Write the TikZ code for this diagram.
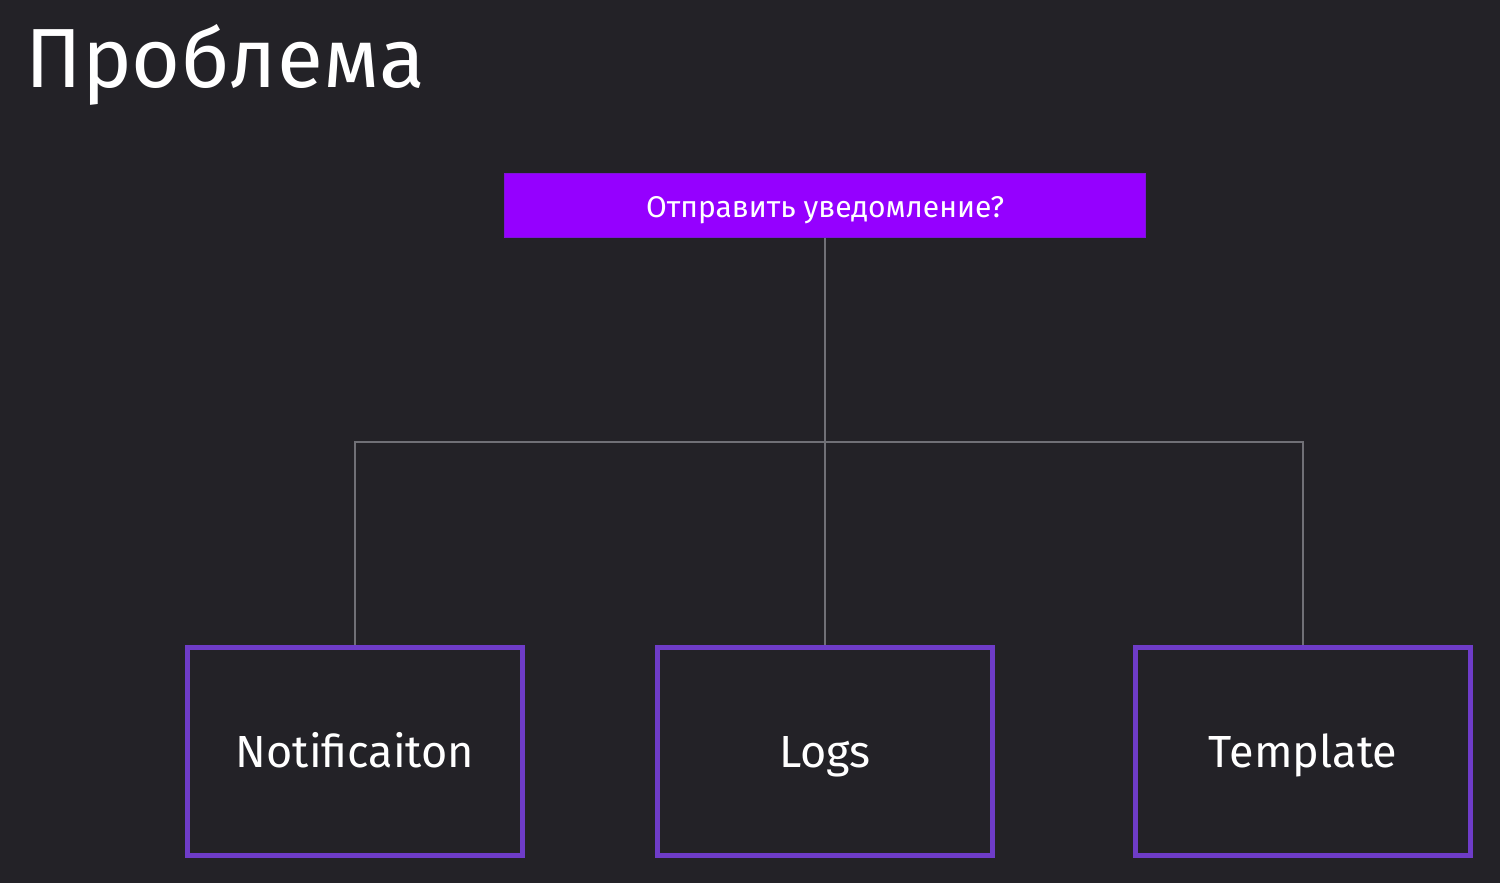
\documentclass[tikz,border=0pt]{standalone}
\usepackage{fontspec}
\setmainfont{Fira Sans}
\usepackage{xcolor}
\usepackage{tikz}
\usetikzlibrary{positioning,calc}
\definecolor{dBg}{RGB}{35,34,39}
\definecolor{dViolet}{RGB}{149,0,255}
\definecolor{dVioletLine}{RGB}{125,20,215}
\definecolor{dBox}{RGB}{110,60,200}
\definecolor{dLink}{RGB}{112,112,118}
\tikzset{
  question/.style={rectangle, draw=dVioletLine, fill=dViolet, line width=0.6pt,
                   minimum width=320.5pt, minimum height=32pt, inner sep=0pt,
                   text height=12.5pt, text depth=0pt,
                   text=white, font=\fontsize{15}{18}\selectfont},
  part/.style={rectangle, draw=dBox, line width=2.5pt, fill=dBg,
               minimum width=167.5pt, minimum height=104pt, inner sep=0pt,
               text height=16pt, text depth=0pt,
               text=white, font=\fontsize{22.5}{27}\selectfont},
  link/.style={draw=dLink, line width=0.7pt},
  heading/.style={text=white, anchor=base west, inner sep=0pt,
                  font=\fontsize{42}{50}\selectfont},
}
\begin{document}
\begin{tikzpicture}[x=0.5pt, y=0.5pt]

  % ===== canvas ========================================================
  \fill[dBg] (0,0) rectangle (1500,883);
  \useasboundingbox (0,0) rectangle (1500,883);

  \node[heading] (title) at (25,883-88) {Проблема};

  % ===== question on top ===============================================
  \node[question] (ask) at (825,883-205.5) {Отправить уведомление?};

  % ===== three parts along the bottom ==================================
  \node[part] (notif) at (355,883-751.5) {Notificaiton};
  \node[part] (logs)  at (825,883-751.5) {Logs};
  \node[part] (tmpl)  at (1303,883-751.5) {Template};

  % ===== tree of links =================================================
  \coordinate (bus) at (825,883-442);
  \draw[link] (ask.south) -- (logs.north);
  \draw[link] (notif.north) |- (bus) -| (tmpl.north);

\end{tikzpicture}
\end{document}
